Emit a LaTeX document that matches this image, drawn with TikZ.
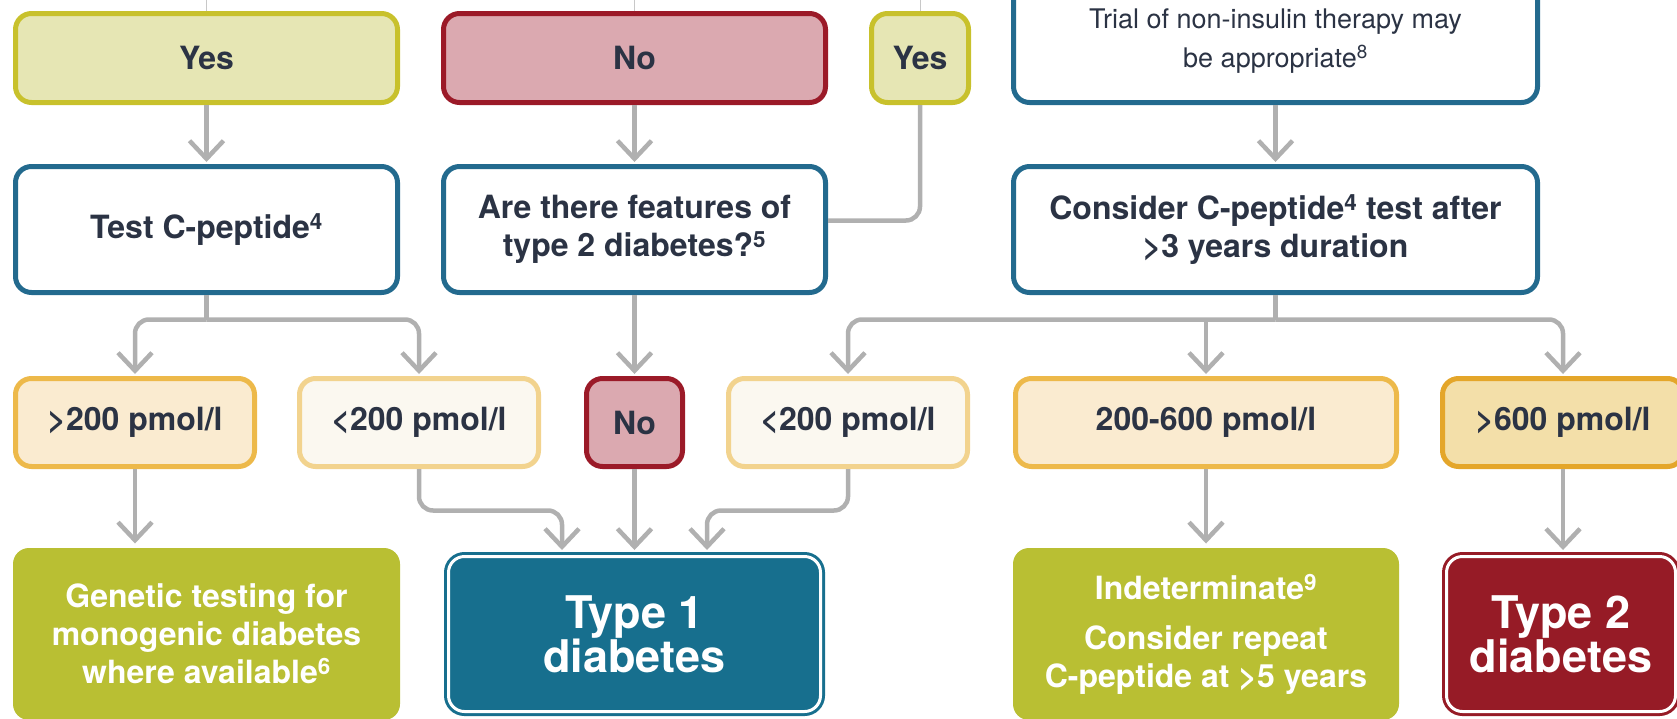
\documentclass[tikz,border=0pt]{standalone}
\usepackage{fontspec}
\setmainfont{TeX Gyre Heros}
\usetikzlibrary{arrows.meta, positioning, calc}

\definecolor{ink}{HTML}{2B3344}
\definecolor{yesfill}{HTML}{E6E6B4}
\definecolor{yesline}{HTML}{C8C12C}
\definecolor{nofill}{HTML}{DBA9B0}
\definecolor{noline}{HTML}{9B1A28}
\definecolor{askline}{HTML}{236A8E}
\definecolor{lowfill}{HTML}{FAEBD0}
\definecolor{lowline}{HTML}{EDB94A}
\definecolor{palefill}{HTML}{FBF8F0}
\definecolor{paleline}{HTML}{F2D38E}
\definecolor{highfill}{HTML}{F3DFA9}
\definecolor{highline}{HTML}{E4A62A}
\definecolor{endfill}{HTML}{B9BF33}
\definecolor{typeonefill}{HTML}{176F8E}
\definecolor{typetwofill}{HTML}{961B26}
\definecolor{linkgray}{HTML}{B0B0B0}

\begin{document}
\begin{tikzpicture}[x=1pt, y=-1pt,
    box/.style={rectangle, rounded corners=16pt, line width=5pt, inner sep=0pt, align=center, text=ink, font=\bfseries\fontsize{32}{38}\selectfont},
    yesbox/.style={box, draw=yesline, fill=yesfill, minimum height=89pt},
    nobox/.style={box, draw=noline, fill=nofill, minimum height=89pt},
    askbox/.style={box, draw=askline, fill=white, minimum height=126pt},
    lowbox/.style={box, draw=lowline, fill=lowfill, minimum height=88pt},
    palebox/.style={box, draw=paleline, fill=palefill, minimum height=88pt},
    highbox/.style={box, draw=highline, fill=highfill, minimum height=88pt},
    endbox/.style={box, fill=endfill, text=white, minimum height=172pt},
    typebox/.style={box, line width=3pt, double=white, double distance=3pt, minimum height=155pt, text=white, font=\bfseries\fontsize{45}{44}\selectfont},
    link/.style={draw=linkgray, line width=4.5pt, rounded corners=14pt},
    arr/.style={link, -{Straight Barb[length=18pt, width=34pt]}, shorten >=2pt},
    stub/.style={draw=linkgray!70, line width=1pt}]

    \useasboundingbox (0,0) rectangle (1677,718);
    \clip (0,0) rectangle (1677,718);
    \coordinate (top) at (0,0);

    \node[yesbox, minimum width=382pt] (yes1) at (206.5,58) {Yes};
    \node[nobox, minimum width=382pt] (no1) at (634.5,58) {No};
    \node[yesbox, minimum width=97pt] (yes2) at (920,58) {Yes};
    \node[askbox, minimum width=524pt, minimum height=122pt, font=\fontsize{27}{39}\selectfont] (trial) at (1275.5,41.5) {Trial of non-insulin therapy may\\be appropriate\textsuperscript{8}};

    \node[askbox, minimum width=382pt] (test) at (206.5,229.5) {Test C-peptide\textsuperscript{4}};
    \node[askbox, minimum width=382pt] (ask) at (634.5,229.5) {Are there features of\\type 2 diabetes?\textsuperscript{5}};
    \node[askbox, minimum width=524pt] (consider) at (1275.5,229.5) {Consider C-peptide\textsuperscript{4} test after\\>3 years duration};

    \node[lowbox, minimum width=239pt] (low1) at (135,422.5) {>200 pmol/l};
    \node[palebox, minimum width=239pt] (pale1) at (419,422.5) {<200 pmol/l};
    \node[nobox, minimum width=96pt, minimum height=88pt] (no2) at (634.5,422.5) {No};
    \node[palebox, minimum width=239pt] (pale2) at (848,422.5) {<200 pmol/l};
    \node[lowbox, minimum width=381pt] (low2) at (1206,422.5) {200-600 pmol/l};
    \node[highbox, minimum width=241pt] (high) at (1563,422.5) {>600 pmol/l};

    \node[endbox, minimum width=387pt] (genetic) at (206.5,634) {Genetic testing for\\monogenic diabetes\\where available\textsuperscript{6}};
    \node[typebox, draw=typeonefill, fill=typeonefill, minimum width=372pt] (type1) at (634.5,634) {Type 1\\diabetes};
    \node[endbox, minimum width=386pt] (indet) at (1206,634) {Indeterminate\textsuperscript{9}\\[12pt]Consider repeat\\C-peptide at >5 years};
    \node[typebox, draw=typetwofill, fill=typetwofill, minimum width=229pt] (type2) at (1561,634) {Type 2\\diabetes};

    \draw[stub] (yes1) -- (yes1 |- top);
    \draw[stub] (no1) -- (no1 |- top);
    \draw[stub] (yes2) -- (yes2 |- top);

    \draw[arr] (yes1) -- (test);
    \draw[arr] (no1) -- (ask);
    \draw[link] (yes2.south) |- ([yshift=9pt]ask.east);
    \draw[arr] (trial) -- (consider);

    \coordinate (testfork) at ([yshift=-24.5pt]test.south);
    \draw[link] (test.south) -- (testfork);
    \draw[arr] (testfork) -| (low1.north);
    \draw[arr] (testfork) -| (pale1.north);
    \draw[arr] (ask) -- (no2);

    \coordinate (cfork) at ([yshift=-24.5pt]consider.south);
    \draw[link] (consider.south) -- (cfork);
    \draw[arr] (cfork) -| (pale2.north);
    \draw[arr] (cfork -| low2.north) -- (low2.north);
    \draw[arr] (cfork) -| (high.north);

    \draw[arr] (low1) -- (low1 |- genetic.north);
    \draw[arr, shorten >=5pt] (pale1.south) -- ++(0,41.5) -| ([xshift=-72.5pt]type1.north);
    \draw[arr, shorten >=5pt] (no2) -- (type1);
    \draw[arr, shorten >=5pt] (pale2.south) -- ++(0,41.5) -| ([xshift=72.5pt]type1.north);
    \draw[arr] (low2) -- (indet);
    \draw[arr, shorten >=5pt] (high) -- (high |- type2.north);
\end{tikzpicture}
\end{document}
